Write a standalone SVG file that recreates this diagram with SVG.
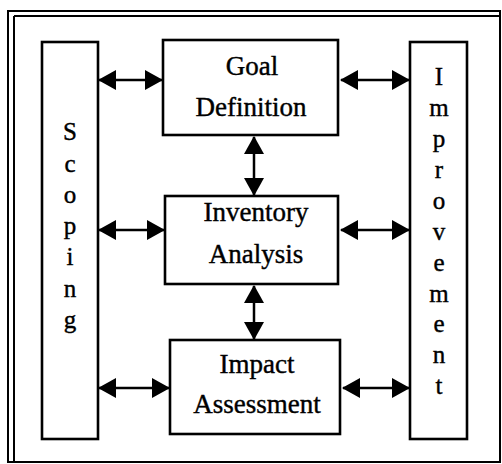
<svg xmlns="http://www.w3.org/2000/svg" width="502" height="464" viewBox="0 0 502 464">
  <defs>
    <style>
      .box { fill: #fff; stroke: #000; stroke-width: 2.6; }
      .frame { fill: none; stroke: #000; stroke-width: 2; }
      .label { font-size: 27px; fill: #000; stroke: #000; stroke-width: 0.4; text-anchor: middle; }
      .side { font-size: 25px; fill: #000; stroke: #000; stroke-width: 0.4; text-anchor: middle; }
      .link { stroke: #000; stroke-width: 2.5; fill: none; marker-start: url(#head); marker-end: url(#head); }
    </style>
    <marker id="head" markerUnits="userSpaceOnUse" markerWidth="18" markerHeight="20" refX="17" refY="10" orient="auto-start-reverse">
      <path d="M0,0 L18,10 L0,20 Z" fill="#000"/>
    </marker>
  </defs>

  <rect width="502" height="464" fill="#fff"/>

  <!-- outer frame with doubled top and left rules -->
  <g id="frame">
    <rect class="frame" x="8" y="11" width="492" height="451"/>
    <line class="frame" x1="14" y1="16" x2="14" y2="462"/>
    <line class="frame" x1="14" y1="16" x2="500" y2="16"/>
  </g>

  <g font-family="Liberation Serif, DejaVu Serif, serif">
    <g id="scoping">
      <rect class="box" x="42" y="42" width="56" height="397"/>
      <text class="side" x="70" y="140">S</text>
      <text class="side" x="70" y="172">c</text>
      <text class="side" x="70" y="203">o</text>
      <text class="side" x="70" y="234">p</text>
      <text class="side" x="70" y="265">i</text>
      <text class="side" x="70" y="297">n</text>
      <text class="side" x="70" y="328">g</text>
    </g>

    <g id="improvement">
      <rect class="box" x="410" y="42" width="57" height="397"/>
      <text class="side" x="439" y="85">I</text>
      <text class="side" x="439" y="116">m</text>
      <text class="side" x="439" y="147">p</text>
      <text class="side" x="439" y="178">r</text>
      <text class="side" x="439" y="209">o</text>
      <text class="side" x="439" y="240">v</text>
      <text class="side" x="439" y="271">e</text>
      <text class="side" x="439" y="302">m</text>
      <text class="side" x="439" y="332">e</text>
      <text class="side" x="439" y="363">n</text>
      <text class="side" x="439" y="394">t</text>
    </g>

    <g id="goal-definition">
      <rect class="box" x="163" y="40" width="175" height="95"/>
      <text class="label" x="252" y="75">Goal</text>
      <text class="label" x="251" y="116">Definition</text>
    </g>

    <g id="inventory-analysis">
      <rect class="box" x="165" y="196" width="173" height="88"/>
      <text class="label" x="256" y="221">Inventory</text>
      <text class="label" x="256" y="263">Analysis</text>
    </g>

    <g id="impact-assessment">
      <rect class="box" x="170" y="340" width="170" height="94"/>
      <text class="label" x="257" y="373">Impact</text>
      <text class="label" x="257" y="413">Assessment</text>
    </g>
  </g>

  <g id="connectors">
    <line class="link" x1="99" y1="80" x2="162" y2="80"/>
    <line class="link" x1="341" y1="80" x2="409" y2="80"/>
    <line class="link" x1="99" y1="230" x2="164" y2="230"/>
    <line class="link" x1="341" y1="230" x2="409" y2="230"/>
    <line class="link" x1="99" y1="388" x2="169" y2="388"/>
    <line class="link" x1="343" y1="388" x2="409" y2="388"/>
    <line class="link" x1="254" y1="137" x2="254" y2="195"/>
    <line class="link" x1="254" y1="286" x2="254" y2="339"/>
  </g>
</svg>
